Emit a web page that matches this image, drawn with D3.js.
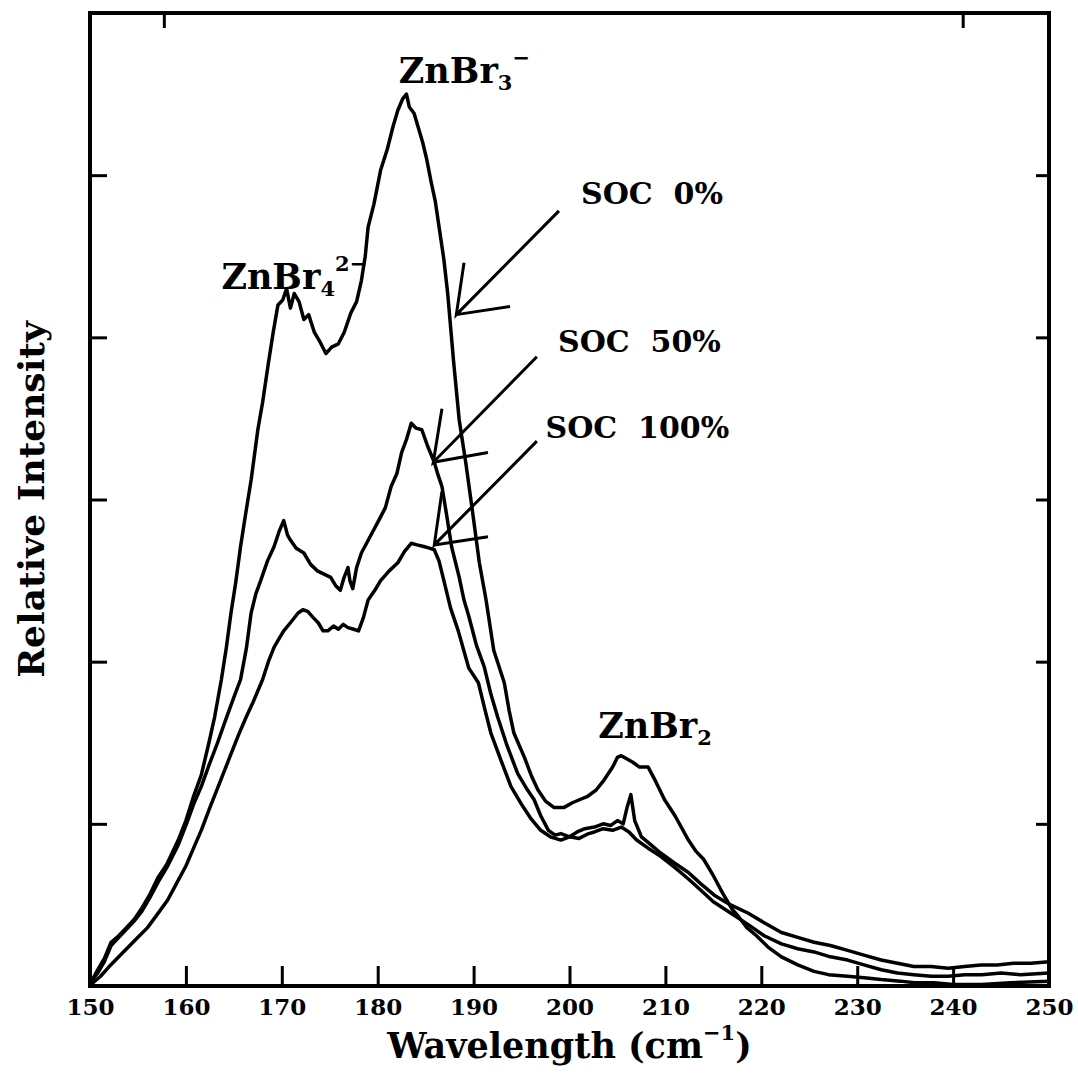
<!DOCTYPE html>
<html>
<head>
<meta charset="utf-8">
<script src="https://cdn.jsdelivr.net/npm/d3@7"></script>
<style>
body { margin: 0; background: #fff; }
text { font-family: "DejaVu Serif", serif; font-weight: bold; fill: #000; }
</style>
</head>
<body>
<div id="chart"></div>
<script>
// spectra, x = wavenumber (cm-1), y = intensity (tick units)
let soc0X = [150.0,150.8,151.5,152.2,153.0,153.8,154.6,155.4,156.2,157.1,158.0,159.2,160.0,160.8,161.6,162.4,163.0,163.7,164.2,164.7,165.2,165.7,166.2,166.8,167.5,168.0,168.6,169.1,169.6,170.1,170.5,170.9,171.3,171.8,172.3,172.8,173.4,174.0,174.6,175.2,175.9,176.5,177.2,177.8,178.3,178.7,179.0,179.6,180.3,181.0,181.6,182.1,182.6,183.0,183.3,183.8,184.2,184.7,185.1,185.6,186.0,186.4,186.9,187.3,187.9,188.5,189.2,189.9,190.6,191.3,192.1,193.2,193.7,194.2,195.3,196.0,196.7,197.5,198.4,199.4,200.3,201.1,201.9,202.8,203.6,204.5,205.0,205.4,206.0,206.6,207.3,208.2,209.0,209.9,211.0,212.4,213.2,214.0,215.0,216.0,217.0,217.6,218.5,219.5,220.7,222.1,223.8,225.5,227.0,229.0,231.0,232.5,234.5,236.0,238.0,240.0,243.0,246.0,250.0];
let soc0Y = [0.01,0.10,0.17,0.27,0.31,0.36,0.41,0.48,0.56,0.67,0.75,0.90,1.02,1.17,1.30,1.50,1.66,1.89,2.08,2.30,2.49,2.71,2.90,3.12,3.43,3.60,3.84,4.03,4.20,4.23,4.30,4.18,4.27,4.22,4.11,4.14,4.03,3.97,3.90,3.94,3.96,4.03,4.15,4.22,4.35,4.50,4.68,4.82,5.03,5.16,5.30,5.40,5.47,5.50,5.42,5.38,5.30,5.20,5.10,4.95,4.84,4.68,4.48,4.27,3.86,3.49,3.22,2.92,2.61,2.38,2.07,1.87,1.70,1.56,1.41,1.30,1.21,1.14,1.10,1.10,1.13,1.15,1.17,1.21,1.27,1.35,1.41,1.42,1.40,1.38,1.35,1.35,1.26,1.15,1.05,0.90,0.83,0.78,0.68,0.57,0.47,0.43,0.36,0.31,0.24,0.18,0.13,0.09,0.07,0.06,0.05,0.04,0.03,0.02,0.02,0.01,0.01,0.02,0.03];

let soc50X = [150.0,150.8,151.5,152.2,153.0,153.8,154.6,155.4,156.2,157.1,158.0,159.2,160.0,160.8,161.6,162.4,163.3,164.2,165.0,165.7,166.3,166.8,167.3,167.8,168.5,169.2,169.7,170.2,170.6,170.9,171.5,172.3,173.0,173.7,174.4,175.1,175.6,176.1,176.5,176.9,177.1,177.4,177.8,178.3,179.2,180.1,180.8,181.4,182.0,182.5,183.0,183.5,184.0,184.6,185.2,185.9,186.3,186.7,187.2,187.7,188.5,189.0,189.5,190.3,191.1,191.8,192.5,193.5,194.6,195.5,196.3,197.0,197.8,198.5,199.1,200.0,200.8,201.6,202.6,203.5,204.3,205.0,205.6,206.0,206.4,206.8,207.5,208.5,209.5,210.9,212.4,213.7,215.1,216.8,218.6,220.3,222.1,223.8,225.5,227.2,229.0,230.7,232.5,234.2,235.9,237.7,239.5,241.2,242.9,244.6,246.3,248.1,250.0];
let soc50Y = [0.02,0.08,0.15,0.25,0.30,0.35,0.40,0.46,0.54,0.64,0.73,0.87,0.99,1.12,1.23,1.36,1.50,1.65,1.78,1.89,2.08,2.30,2.42,2.50,2.62,2.71,2.80,2.87,2.78,2.75,2.70,2.67,2.60,2.56,2.54,2.52,2.47,2.44,2.52,2.58,2.50,2.45,2.58,2.67,2.77,2.87,2.95,3.08,3.16,3.29,3.37,3.47,3.44,3.43,3.33,3.23,3.15,3.08,2.90,2.71,2.52,2.38,2.28,2.10,1.97,1.80,1.66,1.48,1.31,1.22,1.15,1.05,0.96,0.93,0.94,0.92,0.95,0.97,0.98,1.00,0.99,1.02,1.00,1.10,1.18,1.02,0.92,0.87,0.82,0.76,0.70,0.63,0.56,0.50,0.45,0.39,0.33,0.30,0.27,0.25,0.22,0.19,0.16,0.14,0.12,0.12,0.11,0.12,0.13,0.13,0.14,0.14,0.15];

let soc100X = [150.0,150.5,151.1,152.0,153.0,154.0,155.0,156.0,157.0,158.1,159.0,160.0,160.8,161.6,162.5,163.5,164.5,165.5,166.3,167.0,168.0,168.6,169.2,169.7,170.2,170.9,171.7,172.2,172.7,173.3,173.8,174.3,174.8,175.4,175.9,176.4,176.9,177.5,178.0,178.5,179.0,179.7,180.3,181.2,182.1,182.8,183.5,184.1,184.8,185.4,185.9,186.4,186.9,187.6,188.4,189.5,190.5,191.2,191.8,192.8,193.9,195.0,196.0,197.0,198.0,199.1,200.0,201.0,202.0,202.6,203.5,204.5,205.4,206.2,207.0,208.2,209.5,211.0,212.4,213.7,215.0,216.8,218.6,220.3,222.1,223.8,225.5,227.2,229.0,230.7,232.5,234.2,235.9,237.7,239.5,241.2,243.0,245.0,247.0,250.0];
let soc100Y = [0.00,0.03,0.06,0.12,0.18,0.24,0.30,0.36,0.44,0.53,0.63,0.74,0.85,0.96,1.10,1.25,1.40,1.55,1.66,1.75,1.89,2.00,2.09,2.14,2.19,2.24,2.30,2.32,2.31,2.27,2.24,2.19,2.19,2.22,2.20,2.23,2.21,2.20,2.19,2.27,2.38,2.44,2.50,2.56,2.61,2.68,2.73,2.72,2.71,2.70,2.69,2.62,2.50,2.33,2.19,1.96,1.87,1.70,1.56,1.40,1.23,1.12,1.03,0.96,0.92,0.90,0.92,0.91,0.94,0.95,0.97,0.96,0.98,0.95,0.90,0.85,0.80,0.73,0.66,0.59,0.52,0.45,0.38,0.31,0.26,0.23,0.21,0.18,0.16,0.13,0.10,0.08,0.07,0.06,0.06,0.07,0.07,0.08,0.07,0.08];

let xTicks = [150, 160, 170, 180, 190, 200, 210, 220, 230, 240, 250];
let yTicks = [1, 2, 3, 4, 5];
let topTicks = [157.7, 241.0];

let width = 1078, height = 1074;

let svg = d3.select("#chart").append("svg")
    .attr("width", width)
    .attr("height", height);

let x = d3.scaleLinear().domain([150, 250]).range([90, 1049]);
let y = d3.scaleLinear().domain([0, 6]).range([986, 13]);

// ticks, all pointing inwards
let bottomAxis = svg.append("g")
    .attr("transform", `translate(0,${y(0)})`)
    .call(d3.axisBottom(x).tickValues(xTicks).tickSize(-20).tickPadding(13).tickFormat(d3.format("d")));
let leftAxis = svg.append("g")
    .attr("transform", `translate(${x(150)},0)`)
    .call(d3.axisLeft(y).tickValues(yTicks).tickSize(-17).tickFormat(""));
let rightAxis = svg.append("g")
    .attr("transform", `translate(${x(250)},0)`)
    .call(d3.axisRight(y).tickValues(yTicks).tickSize(-13).tickFormat(""));
let topAxis = svg.append("g")
    .attr("transform", `translate(0,${y(6)})`)
    .call(d3.axisTop(x).tickValues(topTicks).tickSize(-15).tickFormat(""));

[bottomAxis, leftAxis, rightAxis, topAxis].forEach(g => {
    g.select(".domain").remove();
    g.selectAll("line").attr("stroke", "#000").attr("stroke-width", 3);
});
bottomAxis.selectAll("text")
    .style("font-family", "'DejaVu Serif', serif")
    .style("font-weight", "bold")
    .style("font-size", "23px")
    .attr("fill", "#000");

svg.append("rect")
    .attr("x", x(150))
    .attr("y", y(6))
    .attr("width", x(250) - x(150))
    .attr("height", y(0) - y(6))
    .attr("fill", "none")
    .attr("stroke", "#000")
    .attr("stroke-width", 4);

let series = [
    {name: "SOC 0%", xs: soc0X, ys: soc0Y},
    {name: "SOC 50%", xs: soc50X, ys: soc50Y},
    {name: "SOC 100%", xs: soc100X, ys: soc100Y}
];

let line = d3.line()
    .x(d => x(d[0]))
    .y(d => y(d[1]));

svg.selectAll(".spectrum")
    .data(series)
    .join(
        enter => enter.append("path")
            .attr("class", "spectrum")
            .attr("d", d => line(d.xs.map((v, i) => [v, d.ys[i]])))
            .attr("fill", "none")
            .attr("stroke", "#000")
            .attr("stroke-width", 3.5)
            .attr("stroke-linejoin", "round")
    );

// arrows pointing at each curve (data units)
let arrows = [
    {from: [198.9, 4.78], tip: [188.2, 4.14], barbs: [[189.0, 4.46], [193.8, 4.19]]},
    {from: [196.6, 3.88], tip: [185.8, 3.23], barbs: [[186.7, 3.56], [191.5, 3.29]]},
    {from: [196.6, 3.36], tip: [185.9, 2.72], barbs: [[186.7, 3.05], [191.5, 2.77]]}
];

svg.selectAll(".arrow")
    .data(arrows)
    .join(
        enter => enter.append("path")
            .attr("class", "arrow")
            .attr("d", d => line([d.from, d.tip, d.barbs[0]]) + line([d.tip, d.barbs[1]]))
            .attr("fill", "none")
            .attr("stroke", "#000")
            .attr("stroke-width", 3)
    );

// labels: parts are [text, shift] where 1 = subscript, -1 = superscript
let labels = [
    {pos: [201.2, 4.82], size: 30, parts: [["SOC\u00a0\u00a00%", 0]]},
    {pos: [198.8, 3.91], size: 30, parts: [["SOC\u00a0\u00a050%", 0]]},
    {pos: [197.5, 3.38], size: 30, parts: [["SOC\u00a0\u00a0100%", 0]]},
    {pos: [182.2, 5.57], size: 35, parts: [["ZnBr", 0], ["3", 1], ["\u2212", -1]]},
    {pos: [163.7, 4.30], size: 35, parts: [["ZnBr", 0], ["4", 1], ["2\u2212", -1]]},
    {pos: [203.0, 1.53], size: 35, parts: [["ZnBr", 0], ["2", 1]]}
];

function drawParts(sel, parts, size) {
    let offset = 0;
    parts.forEach(p => {
        let shift = p[1] === 1 ? 7 : (p[1] === -1 ? -18 : 0);
        sel.append("tspan")
            .attr("dy", shift - offset)
            .style("font-size", p[1] === 0 ? size + "px" : "21px")
            .text(p[0]);
        offset = shift;
    });
}

labels.forEach(l => {
    let t = svg.append("text")
        .attr("x", x(l.pos[0]))
        .attr("y", y(l.pos[1]))
        .style("font-size", l.size + "px");
    drawParts(t, l.parts, l.size);
});

// axis titles
let xTitle = svg.append("text")
    .attr("x", (x(150) + x(250)) / 2)
    .attr("y", 1058)
    .attr("text-anchor", "middle")
    .style("font-size", "35px");
drawParts(xTitle, [["Wavelength (cm", 0], ["\u22121", -1], [")", 0]], 35);

svg.append("text")
    .attr("transform", `translate(44,${(y(0) + y(6)) / 2}) rotate(-90)`)
    .attr("text-anchor", "middle")
    .style("font-size", "36px")
    .text("Relative Intensity");
</script>
</body>
</html>
